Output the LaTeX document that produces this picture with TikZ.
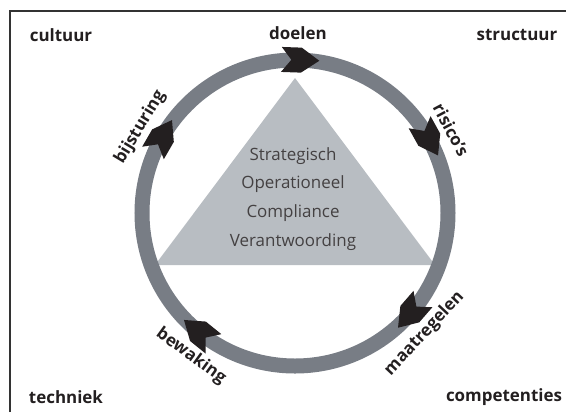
\documentclass[tikz,border=0pt]{standalone}
\usepackage{fontspec}
\setmainfont{Open Sans}

\definecolor{ringgray}{HTML}{787D85}
\definecolor{trigray}{HTML}{B8BDC2}
\definecolor{ink}{HTML}{231F20}
\definecolor{framegray}{HTML}{333333}

\tikzset{
  hoek/.style={font=\bfseries\fontsize{17}{19}\selectfont, text=ink},
  ringlabel/.style={font=\bfseries\fontsize{17}{19}\selectfont, text=ink, inner sep=0pt},
  kern/.style={font=\fontsize{17}{29}\selectfont, text=ink!85, align=center}
}

\begin{document}
\begin{tikzpicture}[x=1bp,y=1bp]
  \useasboundingbox (-295,-199) rectangle (271,213);
  % frame, only top and left visible
  \draw[framegray, line width=2bp] (-285,-199) -- (-285,202) -- (271,202);

  % triangle with the four objectives
  \fill[trigray] (0,135) -- (-140,-52) -- (140,-52) -- cycle;
  \node[kern] (doelsoort) at (-2,14)
    {Strategisch\\Operationeel\\Compliance\\Verantwoording};

  % ring and arrowheads
  \draw[ringgray, line width=15bp] (0,0) circle (153);
  \foreach \a in {88,29,-41,-129,150}
    \fill[ink, shift={(\a:153)}, rotate=\a-90]
      (-19,12.5) -- (1,12.5) -- (19,0) -- (1,-12.5) -- (-19,-12.5) -- (-9,0) -- cycle;

  % labels along the ring
  \node[hoek] (doelen) at (3,180) {doelen};
  \node[ringlabel, rotate=-62] (risicos) at (28:177) {risico’s};
  \node[ringlabel, rotate=47] (maatregelen) at (-43:177) {maatregelen};
  \node[ringlabel, rotate=-36] (bewaking) at (-126:177) {bewaking};
  \node[ringlabel, rotate=59] (bijsturing) at (151:177) {bijsturing};

  % corners
  \node[hoek] (cultuur) at (-234,178) {cultuur};
  \node[hoek] (structuur) at (222,178) {structuur};
  \node[hoek] (techniek) at (-229,-184) {techniek};
  \node[hoek] (competenties) at (209,-184) {competenties};
\end{tikzpicture}
\end{document}
